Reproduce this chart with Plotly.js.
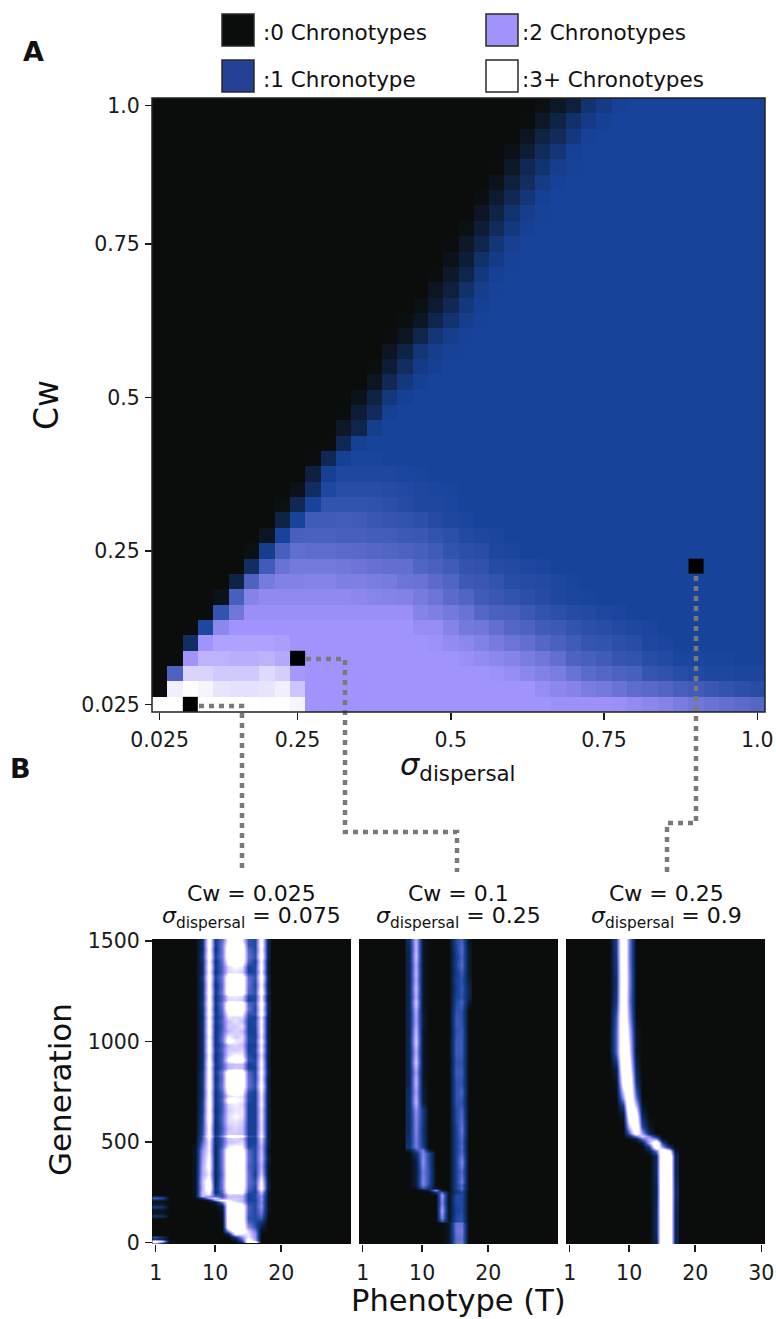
<!DOCTYPE html>
<html><head><meta charset="utf-8">
<script src="https://cdn.plot.ly/plotly-3.0.1.min.js"></script>
<style>html,body{margin:0;padding:0;background:#fff}#c{width:776px;height:1319px}</style></head>
<body><div id="c"></div>
<script>
// Panel A: mean number of chronotypes; first row is the bottom row (Cw 0.025), first column is sigma 0.025
const gridA = [
[3,3,3,3,3,3,3,2.98,2.98,2.9,2,2,2,2,2,2,2,2,2,2,2,2,2,2,2,2,1.98,1.98,1.98,1.98,1.95,1.9,1.85,1.8,1.72,1.65,1.6,1.55,1.5,1.45],
[0,2.85,2.98,2.9,2.75,2.72,2.72,2.75,2.85,2.45,2,2,2,2,2,2,2,2,2,2,2,2,2,2,2,1.93,1.85,1.8,1.72,1.68,1.6,1.52,1.48,1.42,1.35,1.3,1.25,1.2,1.15,1.12],
[0,1.4,2.6,2.6,2.5,2.5,2.5,2.65,2.55,2.05,2,2,2,2,2,2,2,2,2,2,2,2,1.97,1.93,1.85,1.78,1.72,1.6,1.5,1.45,1.4,1.35,1.22,1.18,1.12,1.08,1.05,1.05,1.03,1.03],
[0,0,2,2.3,2.3,2.25,2.25,2.3,2.2,2.05,2,2,2,2,2,2,2,2,2,2,1.95,1.9,1.85,1.8,1.72,1.65,1.55,1.4,1.35,1.3,1.22,1.2,1.12,1.08,1.03,1.03,1.02,1.02,1,1],
[0,0,0.6,2,2.15,2.15,2.15,2.15,2.1,2,2,2,2,2,2,2,2,2,1.97,1.9,1.85,1.78,1.7,1.62,1.55,1.45,1.38,1.3,1.22,1.2,1.15,1.12,1.05,1.03,1,1,1,1,1,1],
[0,0,0,1.05,1.85,2,2,2,2,2,2,2,2,2,2,2,2,1.93,1.93,1.8,1.68,1.65,1.55,1.45,1.4,1.3,1.28,1.2,1.15,1.12,1.08,1.05,1.03,1,1,1,1,1,1,1],
[0,0,0,0,1.2,1.65,1.95,1.95,1.95,1.95,1.95,1.95,1.95,1.95,1.95,1.95,1.95,1.8,1.75,1.68,1.6,1.45,1.38,1.35,1.28,1.2,1.15,1.1,1.08,1.05,1.03,1,1,1,1,1,1,1,1,1],
[0,0,0,0,0.1,1.35,1.8,1.88,1.88,1.88,1.88,1.88,1.88,1.85,1.82,1.8,1.78,1.7,1.62,1.5,1.42,1.3,1.25,1.2,1.15,1.1,1.05,1.03,1.02,1,1,1,1,1,1,1,1,1,1,1],
[0,0,0,0,0,0.4,1.4,1.7,1.78,1.78,1.8,1.8,1.75,1.75,1.72,1.7,1.62,1.6,1.5,1.42,1.28,1.25,1.2,1.12,1.1,1.08,1.05,1.02,1,1,1,1,1,1,1,1,1,1,1,1],
[0,0,0,0,0,0,0.6,1.3,1.6,1.68,1.68,1.68,1.65,1.62,1.58,1.55,1.55,1.42,1.38,1.3,1.2,1.18,1.1,1.08,1.05,1.03,1,1,1,1,1,1,1,1,1,1,1,1,1,1],
[0,0,0,0,0,0,0.05,0.9,1.35,1.55,1.52,1.52,1.5,1.48,1.45,1.42,1.4,1.35,1.3,1.2,1.15,1.12,1.05,1.03,1,1,1,1,1,1,1,1,1,1,1,1,1,1,1,1],
[0,0,0,0,0,0,0,0.15,1,1.35,1.38,1.38,1.35,1.35,1.32,1.32,1.28,1.25,1.2,1.15,1.08,1.05,1.03,1,1,1,1,1,1,1,1,1,1,1,1,1,1,1,1,1],
[0,0,0,0,0,0,0,0,0.4,1,1.3,1.3,1.32,1.3,1.25,1.22,1.2,1.15,1.1,1.05,1.03,1,1,1,1,1,1,1,1,1,1,1,1,1,1,1,1,1,1,1],
[0,0,0,0,0,0,0,0,0.05,0.5,1,1.2,1.2,1.2,1.18,1.15,1.1,1.05,1.05,1.03,1,1,1,1,1,1,1,1,1,1,1,1,1,1,1,1,1,1,1,1],
[0,0,0,0,0,0,0,0,0,0.1,0.6,1.05,1.12,1.12,1.12,1.1,1.08,1.05,1.03,1.02,1,1,1,1,1,1,1,1,1,1,1,1,1,1,1,1,1,1,1,1],
[0,0,0,0,0,0,0,0,0,0,0.35,0.95,1.05,1.05,1.05,1.05,1.03,1.02,1,1,1,1,1,1,1,1,1,1,1,1,1,1,1,1,1,1,1,1,1,1],
[0,0,0,0,0,0,0,0,0,0,0.02,0.5,0.95,1.02,1.02,1,1,1,1,1,1,1,1,1,1,1,1,1,1,1,1,1,1,1,1,1,1,1,1,1],
[0,0,0,0,0,0,0,0,0,0,0,0.02,0.5,0.95,1,1,1,1,1,1,1,1,1,1,1,1,1,1,1,1,1,1,1,1,1,1,1,1,1,1],
[0,0,0,0,0,0,0,0,0,0,0,0,0.2,0.45,0.9,1,1,1,1,1,1,1,1,1,1,1,1,1,1,1,1,1,1,1,1,1,1,1,1,1],
[0,0,0,0,0,0,0,0,0,0,0,0,0.02,0.3,0.55,0.95,1,1,1,1,1,1,1,1,1,1,1,1,1,1,1,1,1,1,1,1,1,1,1,1],
[0,0,0,0,0,0,0,0,0,0,0,0,0,0.1,0.4,0.8,0.95,1,1,1,1,1,1,1,1,1,1,1,1,1,1,1,1,1,1,1,1,1,1,1],
[0,0,0,0,0,0,0,0,0,0,0,0,0,0,0.15,0.5,0.8,0.95,1,1,1,1,1,1,1,1,1,1,1,1,1,1,1,1,1,1,1,1,1,1],
[0,0,0,0,0,0,0,0,0,0,0,0,0,0,0.03,0.3,0.6,0.85,0.95,1,1,1,1,1,1,1,1,1,1,1,1,1,1,1,1,1,1,1,1,1],
[0,0,0,0,0,0,0,0,0,0,0,0,0,0,0,0.15,0.4,0.75,0.9,0.98,1,1,1,1,1,1,1,1,1,1,1,1,1,1,1,1,1,1,1,1],
[0,0,0,0,0,0,0,0,0,0,0,0,0,0,0,0.02,0.15,0.45,0.75,0.9,0.98,1,1,1,1,1,1,1,1,1,1,1,1,1,1,1,1,1,1,1],
[0,0,0,0,0,0,0,0,0,0,0,0,0,0,0,0,0.03,0.18,0.45,0.7,0.9,0.98,1,1,1,1,1,1,1,1,1,1,1,1,1,1,1,1,1,1],
[0,0,0,0,0,0,0,0,0,0,0,0,0,0,0,0,0,0.05,0.25,0.5,0.8,0.95,1,1,1,1,1,1,1,1,1,1,1,1,1,1,1,1,1,1],
[0,0,0,0,0,0,0,0,0,0,0,0,0,0,0,0,0,0,0.15,0.35,0.65,0.9,0.98,1,1,1,1,1,1,1,1,1,1,1,1,1,1,1,1,1],
[0,0,0,0,0,0,0,0,0,0,0,0,0,0,0,0,0,0,0.02,0.2,0.45,0.8,0.95,1,1,1,1,1,1,1,1,1,1,1,1,1,1,1,1,1],
[0,0,0,0,0,0,0,0,0,0,0,0,0,0,0,0,0,0,0,0.1,0.3,0.65,0.85,0.98,1,1,1,1,1,1,1,1,1,1,1,1,1,1,1,1],
[0,0,0,0,0,0,0,0,0,0,0,0,0,0,0,0,0,0,0,0.02,0.2,0.45,0.75,0.92,1,1,1,1,1,1,1,1,1,1,1,1,1,1,1,1],
[0,0,0,0,0,0,0,0,0,0,0,0,0,0,0,0,0,0,0,0,0.05,0.3,0.55,0.8,0.95,1,1,1,1,1,1,1,1,1,1,1,1,1,1,1],
[0,0,0,0,0,0,0,0,0,0,0,0,0,0,0,0,0,0,0,0,0,0.15,0.4,0.7,0.9,0.98,1,1,1,1,1,1,1,1,1,1,1,1,1,1],
[0,0,0,0,0,0,0,0,0,0,0,0,0,0,0,0,0,0,0,0,0,0.03,0.25,0.5,0.75,0.95,1,1,1,1,1,1,1,1,1,1,1,1,1,1],
[0,0,0,0,0,0,0,0,0,0,0,0,0,0,0,0,0,0,0,0,0,0,0.12,0.35,0.6,0.85,0.97,1,1,1,1,1,1,1,1,1,1,1,1,1],
[0,0,0,0,0,0,0,0,0,0,0,0,0,0,0,0,0,0,0,0,0,0,0.02,0.2,0.5,0.7,0.9,0.98,1,1,1,1,1,1,1,1,1,1,1,1],
[0,0,0,0,0,0,0,0,0,0,0,0,0,0,0,0,0,0,0,0,0,0,0,0.08,0.28,0.55,0.75,0.95,1,1,1,1,1,1,1,1,1,1,1,1],
[0,0,0,0,0,0,0,0,0,0,0,0,0,0,0,0,0,0,0,0,0,0,0,0,0.15,0.4,0.55,0.8,0.97,1,1,1,1,1,1,1,1,1,1,1],
[0,0,0,0,0,0,0,0,0,0,0,0,0,0,0,0,0,0,0,0,0,0,0,0,0.02,0.2,0.4,0.65,0.85,0.95,1,1,1,1,1,1,1,1,1,1],
[0,0,0,0,0,0,0,0,0,0,0,0,0,0,0,0,0,0,0,0,0,0,0,0,0,0.05,0.2,0.35,0.7,0.85,0.97,1,1,1,1,1,1,1,1,1]
];
const gridTicksX = [0,9,19,29,39];
const gridTickTextX = ['0.025','0.25','0.5','0.75','1.0'];
const gridTicksY = [0,10,20,30,39];
const gridTickTextY = ['0.025','0.25','0.5','0.75','1.0'];
const markerCols = [2,9,35];
const markerRows = [0,3,9];

// Panel B, left: Cw 0.025, sigma 0.075
const leftCols = [7,8,9,10,11,12,13,14,15,16,17,18];
const leftGens = [1500,1480,1460,1420,1400,1370,1345,1320,1280,1240,1225,1205,1190,1160,1135,1120,1100,1075,1050,1025,1005,985,960,935,910,890,870,850,820,780,750,730,710,690,660,630,600,570,540,530,520,500,475,460,420,380,340,300,270,250,240,230,222,210,200,180,150,120,100,80,60,45,30,15,5];
const leftZ = [
[0,0.5,2.9,0.7,1.3,2.6,2.7,2.4,1,0.9,2.8,0.3],
[0,0.5,3,0.7,1.4,2.8,3,2.9,1,0.9,2.9,0.3],
[0,0.5,2.8,0.6,1.4,3,3,3,1.2,0.9,2.7,0.3],
[0,0.6,3,0.8,1.4,3,3,3,1.3,1,3,0.3],
[0,0.5,2.7,0.6,1.3,2.8,3,3,1.2,0.8,2.6,0.2],
[0,0.5,2.9,0.7,1.2,2.2,2.5,2.3,0.8,0.9,2.8,0.2],
[0,0.5,2.7,0.6,1.2,2.2,2.3,2.1,0.8,0.9,2.5,0.2],
[0,0.6,3,0.8,1.4,3,3,3,1.3,1,3,0.3],
[0,0.5,2.8,0.6,1.3,3,3,3,1.3,0.9,2.6,0.2],
[0,0.5,3,0.7,1.4,3,3,3,1.2,1,3,0.3],
[0,0.5,2.8,0.6,1.2,2.3,2.4,2.2,0.9,0.9,2.5,0.2],
[0,0.5,2.9,0.6,1.2,2.2,2.2,2.1,0.8,0.9,2.6,0.2],
[0,0.6,3,0.7,1.4,3,3,3,1.2,1,3,0.3],
[0,0.5,2.8,0.6,1.3,3,3,3,1.3,0.9,2.7,0.3],
[0,0.5,3,0.7,1.2,2.5,2.6,2.5,1,1,3,0.3],
[0,0.5,2.7,0.6,1.1,2.3,2.2,2.2,0.9,0.8,2.4,0.2],
[0,0.5,2.9,0.7,1.2,2,2.3,2,0.8,0.9,2.6,0.2],
[0,0.5,2.8,0.6,1.1,2.1,2.1,2.3,0.8,0.9,2.5,0.2],
[0,0.5,2.9,0.6,1.2,1.9,2.2,2,0.8,0.8,2.6,0.2],
[0,0.5,2.7,0.6,1.3,2.5,2.1,2.3,0.9,0.8,2.4,0.2],
[0,0.5,2.9,0.6,1.3,2.8,2.4,2.2,0.9,0.9,2.7,0.2],
[0,0.5,2.8,0.6,1.1,2,2.2,2,0.8,0.8,2.4,0.2],
[0,0.5,2.9,0.7,1.2,2.1,2.1,2.2,0.8,0.9,2.6,0.2],
[0,0.5,2.7,0.6,1.1,2.2,2.5,2.4,0.9,0.8,2.3,0.2],
[0,0.5,2.8,0.6,1.2,2.6,3,2.9,1,0.9,2.5,0.2],
[0,0.5,3,0.7,1.1,1.9,2,2,0.8,0.9,2.6,0.2],
[0,0.5,2.8,0.6,1.1,1.9,2.1,2,0.8,0.8,2.5,0.2],
[0,0.6,2.9,0.7,1.4,3,3,3,1.2,0.9,2.7,0.3],
[0,0.6,2.9,0.6,1.3,3,3,3,1.3,0.9,2.5,0.2],
[0,0.6,3,0.7,1.4,3,3,3,1.3,1,2.8,0.2],
[0,0.6,2.8,0.6,1.2,2.7,2.9,2.6,1,0.8,2.5,0.2],
[0,0.6,2.9,0.6,1.1,2.2,2.4,2.3,0.9,0.8,2.4,0.2],
[0,0.7,2.9,0.6,1.2,2.8,2.6,2.4,0.9,0.8,2.4,0.2],
[0,0.7,3,0.6,1.1,2.2,2.4,2.2,0.8,0.8,2.5,0.2],
[0,0.7,2.9,0.5,1.1,2.1,2.3,2.3,0.8,0.8,2.3,0.2],
[0,0.8,3,0.6,1.2,2.2,2.5,2.3,0.8,0.8,2.4,0.2],
[0,0.8,2.9,0.5,1.2,2.2,2.3,2.1,0.8,0.8,2.3,0.2],
[0,0.9,2.7,0.5,1.1,2,2.2,2,0.8,0.8,2.3,0.2],
[0,0.9,2.8,0.5,1.2,2.1,2.1,2,0.8,0.8,2.4,0.2],
[0,1.1,3,0.7,1.5,2.9,2.9,2.8,1,0.9,2.6,0.2],
[0,1,2.6,0.5,1.1,2.1,2.2,2,0.8,0.8,2.2,0.2],
[0,1.2,2.4,0.5,1.1,2,2.1,2.2,0.8,0.8,2.1,0.2],
[0.1,1.4,2.5,0.4,1.2,2.4,2.6,2.5,0.9,0.9,1.9,0.2],
[0.1,1.6,2.4,0.4,1.4,3,3,3,1.2,0.9,2,0.1],
[0.1,1.7,2.6,0.4,1.4,3,3,3,1.3,0.9,2.1,0.2],
[0.1,1.8,2.7,0.4,1.4,3,3,3,1.2,0.9,1.9,0.1],
[0.1,1.8,2.4,0.4,1.3,3,3,3,1.3,0.8,2.1,0.1],
[0.1,2,2.9,0.4,1.4,3,3,3,1.3,1,2.6,0.2],
[0.1,1.9,3,0.5,1.4,3,3,3,1.2,0.9,2.8,0.2],
[0.1,2,2.6,0.5,1.2,2.8,2.9,2.7,1,0.8,2,0.1],
[0.1,2,2.4,0.8,1.1,2.2,2.2,2.2,0.8,0.9,1.8,0.1],
[0.1,1.9,1.7,1.2,1,2,2,1.9,0.8,0.9,1.6,0.1],
[0,0.6,1.7,2.2,1.4,2,2.1,2,0.8,0.9,1.6,0.1],
[0,0,0.3,1.6,2.6,2.4,2.1,1.9,0.8,0.8,1.6,0.1],
[0,0,0,0.2,1.4,2.8,2.4,2.1,0.9,0.9,1.5,0.1],
[0,0,0,0,0.3,3,3,3,1.1,0.9,1.6,0.1],
[0,0,0,0,0.1,3,3,3,1.1,0.9,1.4,0.1],
[0,0,0,0,0.1,3,3,3,1,0.9,1.1,0],
[0,0,0,0,0,3,3,3,1.2,0.9,0.6,0],
[0,0,0,0,0,2.9,3,3,1.6,1,0.3,0],
[0,0,0,0,0,1.6,3,2.8,2.2,1.4,0.1,0],
[0,0,0,0,0,0.3,2.4,2.3,2.3,1.6,0,0],
[0,0,0,0,0,0,0.6,1.6,2.4,1.6,0,0],
[0,0,0,0,0,0,0.1,1.1,2.9,1.8,0,0],
[0,0,0,0,0,0,0,0.6,3,3,0,0]
];
const leftLowCols = [1,2,3];
const leftLowGens = [240,225,210,195,180,165,150,135,120,40,28,18,8,0];
const leftLowZ = [
[0,0,0],[1.1,0.9,0],[0.1,0.1,0],[0.2,0.2,0],[0.7,0.6,0],[0.1,0.1,0],[0.1,0.1,0],[0.6,0.5,0],[0,0,0],
[0,0,0],[1,0.5,0],[0.4,0.2,0],[3,2.2,0],[2,0.8,0]
];

// Panel B, middle: Cw 0.1, sigma 0.25
const midCols = [8,9,10,11,12,13,14,15,16,17];
const midGens = [1500,1460,1420,1380,1340,1300,1260,1220,1195,1150,1100,1050,1000,950,900,850,800,750,700,660,610,560,500,475,462,445,400,350,300,285,272,262,250,238,200,160,120,108,95,60,25,0];
const midZ = [
[0.5,2.2,0.2,0,0,0,0,1,1.3,0.1],
[0.4,2.2,0.2,0,0,0,0,0.9,1.4,0.2],
[0.4,2.3,0.2,0,0,0,0,0.8,1.3,0.2],
[0.4,2.1,0.2,0,0,0,0,0.9,1.4,0.2],
[0.4,2.2,0.2,0,0,0,0,0.8,1.2,0.2],
[0.4,2.1,0.2,0,0,0,0,0.9,1.1,0.3],
[0.4,2.3,0.2,0,0,0,0,0.8,1.2,0.4],
[0.4,2.1,0.2,0,0,0,0,0.9,1.1,0.4],
[0.4,2.4,0.2,0,0,0,0,1,1.3,0.2],
[0.4,2.1,0.2,0,0,0,0,1.1,1.1,0],
[0.4,2,0.3,0,0,0,0,1.2,1.1,0],
[0.4,2.2,0.2,0,0,0,0,1.1,1.2,0],
[0.4,2.4,0.2,0,0,0,0,1.2,1.2,0],
[0.4,2.1,0.2,0,0,0,0,1.2,1.2,0],
[0.4,2.4,0.2,0,0,0,0,1.1,1.1,0],
[0.4,2,0.2,0,0,0,0,1.2,1.2,0],
[0.4,2.2,0.2,0,0,0,0,1.1,1.1,0],
[0.5,2,0.3,0,0,0,0,1.1,1.3,0],
[0.5,2.2,0.3,0,0,0,0,1.1,1.1,0],
[0.5,1.8,0.8,0,0,0,0,1,1.3,0],
[0.5,1.7,0.8,0,0,0,0,1,1.4,0],
[0.5,1.7,0.7,0,0,0,0,0.9,1.5,0],
[0.6,1.6,0.8,0,0,0,0,0.9,1.3,0],
[0.7,1.6,0.9,0,0,0,0,0.9,1.4,0],
[0.2,1.1,1.6,0.3,0,0,0,0.9,1.3,0],
[0,0.6,1.7,1,0,0,0,0.9,1.4,0],
[0,0.3,1.8,1,0,0,0,0.9,1.7,0],
[0,0.3,1.6,1.1,0,0,0,0.9,1.4,0],
[0,0.3,1.7,1.1,0,0,0,0.9,1.6,0],
[0,0.3,1.6,1,0,0,0,0.9,1.3,0],
[0,0.1,1.2,0.7,0.2,0,0,0.9,1.4,0],
[0,0,0.1,0.4,1.8,0.2,0,0.8,1.2,0],
[0,0,0,0,0.7,1.3,0.1,0.7,1,0],
[0,0,0,0,0,1.9,0.1,1,1,0],
[0,0,0,0,0,1.7,0.1,1,1,0],
[0,0,0,0,0,2,0.1,0.9,1,0],
[0,0,0,0,0,1.7,0.1,1,1.1,0],
[0,0,0,0,0,1.2,0.2,1,1.1,0],
[0,0,0,0,0,0,0.2,1.5,1.5,0],
[0,0,0,0,0,0,0.2,1.5,1.6,0],
[0,0,0,0,0,0,0.2,1.4,1.5,0],
[0,0,0,0,0,0,0.2,1.5,1.6,0]
];

// Panel B, right: Cw 0.25, sigma 0.9
const rightCols = [7,8,9,10,11,12,13,14,15,16,17];
const rightGens = [1500,1400,1300,1200,1120,1050,950,870,800,720,680,640,580,545,530,515,495,475,455,430,350,250,150,60,0];
const rightZ = [
[0,0.7,3,1.2,0,0,0,0,0,0,0],
[0,0.6,3,1.2,0,0,0,0,0,0,0],
[0,0.5,3,1.3,0,0,0,0,0,0,0],
[0,0.6,3,1.2,0,0,0,0,0,0,0],
[0,0.9,3,1.4,0,0,0,0,0,0,0],
[0,1,3,1.7,0.1,0,0,0,0,0,0],
[0,1,3,2,0.1,0,0,0,0,0,0],
[0,0.3,2.9,2.4,0.3,0,0,0,0,0,0],
[0,0.1,2.4,2.9,0.5,0,0,0,0,0,0],
[0,0,1.4,3,1.1,0,0,0,0,0,0],
[0,0,0.6,3,1.7,0.1,0,0,0,0,0],
[0,0,0.2,2.6,2.3,0.3,0,0,0,0,0],
[0,0,0,1.8,2.8,0.7,0.1,0,0,0,0],
[0,0,0,1,2.6,1.4,0.3,0,0,0,0],
[0,0,0,0.4,1.2,1.8,1.2,0.4,0,0,0],
[0,0,0,0,0.2,1,1.6,1.4,0.1,0,0],
[0,0,0,0,0,0.2,1.5,3,0.8,0,0],
[0,0,0,0,0,0,0.6,2.6,1.5,0.5,0],
[0,0,0,0,0,0,0.2,1.1,2.7,2.3,0.1],
[0,0,0,0,0,0,0,0.4,3,3,0.3],
[0,0,0,0,0,0,0,0.4,3,3,0.3],
[0,0,0,0,0,0,0,0.3,3,3,0.4],
[0,0,0,0,0,0,0,0.4,3,3,0.3],
[0,0,0,0,0,0,0,0.4,3,3,0.3],
[0,0,0,0,0,0,0,0.3,3,3,0.3]
];
const phenoTicks = [1,10,20];
const phenoTicksRight = [1,10,20,30];
const genTicks = [0,500,1000,1500];
const legendLabels = [':0 Chronotypes',':1 Chronotype',':2 Chronotypes',':3+ Chronotypes'];
const legendColors = ['#0a0d0c','#214096','#a093fb','#ffffff'];
const panelTitles = [['Cw = 0.025','0.075'],['Cw = 0.1','0.25'],['Cw = 0.25','0.9']];

const W=776,H=1319;
const px=x=>x/W, py=y=>1-y/H;
const FONT='"DejaVu Sans", sans-serif';
const INK='#1a1a1a';
const scale=[[0,'#0a0d0c'],[1/3,'#17439b'],[2/3,'#a093fb'],[1,'#ffffff']];
const hm=(x,y,z,xa,ya,zmax)=>({type:'heatmap',x,y,z,xaxis:xa,yaxis:ya,colorscale:scale,zmin:0,zmax,showscale:false,zsmooth:'best',hoverinfo:'skip'});

const data=[
 {type:'heatmap',z:gridA,xaxis:'x',yaxis:'y',colorscale:scale,zmin:0,zmax:3,showscale:false,zsmooth:false,hoverinfo:'skip'},
 {type:'scatter',mode:'markers',x:markerCols,y:markerRows,xaxis:'x',yaxis:'y',marker:{symbol:'square',size:15,color:'#000000'},hoverinfo:'skip',showlegend:false},
 hm(leftCols,leftGens,leftZ,'x2','y2',2.5),
 hm(leftLowCols,leftLowGens,leftLowZ,'x2','y2',2.5),
 hm(midCols,midGens,midZ,'x3','y3',2.8),
 hm(rightCols,rightGens,rightZ,'x4','y4',2.1)
];

const tf={family:FONT,size:20.5,color:INK};
const ax=(o)=>Object.assign({showgrid:false,zeroline:false,ticks:'outside',ticklen:7,tickwidth:1.5,tickcolor:INK,tickfont:tf,tickmode:'array',anchor:'free',fixedrange:true},o);
const panelX=(a,b,t)=>ax({domain:[px(a),px(b)],range:[0.44,30.56],tickvals:t,ticktext:t.map(String),position:py(1244),ticklabelstandoff:3,showline:false});

const shapes=[];
const legendBoxes=[[222,14],[222,60],[486,14],[486,60]];
legendBoxes.forEach((b,i)=>shapes.push({type:'rect',xref:'paper',yref:'paper',x0:px(b[0]),x1:px(b[0]+32),y0:py(b[1]),y1:py(b[1]+32),fillcolor:legendColors[i],line:{color:'#2a2a2a',width:1.5}}));
const pathOf=pts=>'M'+pts.map(p=>px(p[0])+','+py(p[1])).join('L');
[
 [[199,706],[242,706],[242,868]],
 [[306,659],[345,659],[345,832],[457,832],[457,872]],
 [[696,576],[696,823],[667,823],[667,872]]
].forEach(p=>shapes.push({type:'path',xref:'paper',yref:'paper',path:pathOf(p),line:{color:'#7a7a7a',width:4.5,dash:'5px,5px'},layer:'above'}));
shapes.push({type:'rect',xref:'paper',yref:'paper',x0:px(152),x1:px(765),y0:py(712),y1:py(98),line:{color:'#222',width:1.5},fillcolor:'rgba(0,0,0,0)',layer:'above'});

const note=(x,y,text,size,extra)=>Object.assign({xref:'paper',yref:'paper',x:px(x),y:py(y),text,showarrow:false,font:{family:FONT,size,color:'#111'},xanchor:'center',yanchor:'middle'},extra||{});
const annotations=[
 note(33,52,'<b>A</b>',27),
 note(20,768,'<b>B</b>',27),
 note(261,33,legendLabels[0],21.5,{xanchor:'left'}),
 note(261,80,legendLabels[1],21.5,{xanchor:'left'}),
 note(520,33,legendLabels[2],21.5,{xanchor:'left'}),
 note(520,80,legendLabels[3],21.5,{xanchor:'left'}),
 note(46,405,'Cw',33,{textangle:-90}),
 note(458,766,'<i>σ</i><sub>dispersal</sub>',30.5),
 note(60,1090,'Generation',31,{textangle:-90}),
 note(458,1300,'Phenotype (T)',30.5)
];
const titleCenters=[251.5,458,666];
panelTitles.forEach((t,i)=>{
 annotations.push(note(titleCenters[i],893,t[0],22));
 annotations.push(note(titleCenters[i],917,'<i>σ</i><sub>dispersal</sub> = '+t[1],22));
});

const layout={
 width:W,height:H,margin:{l:0,r:0,t:0,b:0},paper_bgcolor:'#fff',plot_bgcolor:'#0a0d0c',showlegend:false,
 xaxis:ax({domain:[px(152),px(765)],range:[-0.5,39.5],tickvals:gridTicksX,ticktext:gridTickTextX,position:py(712),ticklabelstandoff:2}),
 yaxis:ax({domain:[py(712),py(98)],range:[-0.5,39.5],tickvals:gridTicksY,ticktext:gridTickTextY,position:px(152),ticklabelstandoff:1}),
 xaxis2:panelX(152,351,phenoTicks),
 xaxis3:panelX(359,558,phenoTicks),
 xaxis4:panelX(566,765,phenoTicksRight),
 yaxis2:ax({domain:[py(1244),py(939)],range:[-7,1510],tickvals:genTicks,ticktext:genTicks.map(String),position:px(152),ticklabelstandoff:1}),
 yaxis3:ax({domain:[py(1244),py(939)],range:[-7,1510],showticklabels:false,ticks:'',tickvals:[],position:px(359)}),
 yaxis4:ax({domain:[py(1244),py(939)],range:[-7,1510],showticklabels:false,ticks:'',tickvals:[],position:px(566)}),
 shapes,annotations
};
Plotly.newPlot('c',data,layout,{displayModeBar:false,staticPlot:true});
</script></body></html>
